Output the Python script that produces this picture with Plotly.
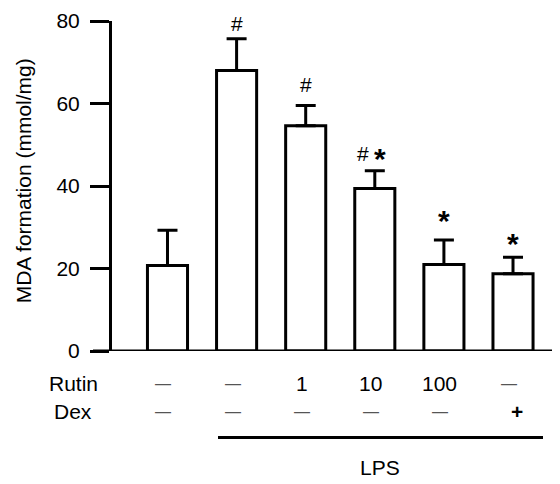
import plotly.graph_objects as go

# ---- data ----
groups = ["Control", "LPS", "LPS+Rutin 1", "LPS+Rutin 10", "LPS+Rutin 100", "LPS+Dex"]
mda_mean = [20.7, 68.0, 54.6, 39.4, 21.0, 18.7]
mda_sem = [8.6, 7.7, 4.9, 4.3, 5.9, 4.0]
hash_marks = ["", "#", "#", "#", "", ""]
star_marks = ["", "", "", "*", "*", "*"]
rutin_row = ["—", "—", "1", "10", "100", "—"]
dex_row = ["—", "—", "—", "—", "—", "+"]
y_ticks = [0, 20, 40, 60, 80]

# label offsets above error caps (pixels)
hash_shift = [0, 15, 21, 17, 0, 0]
star_shift = [0, 0, 0, 12, 20, 14]

FONT = "Arial, Liberation Sans, Helvetica, sans-serif"
xs = list(range(len(groups)))

fig = go.Figure()
fig.add_trace(go.Bar(
    x=xs, y=mda_mean, width=0.58,
    marker=dict(color="white", line=dict(color="black", width=3)),
    error_y=dict(type="data", array=mda_sem, arrayminus=[0] * len(mda_sem),
                 symmetric=False, color="black", thickness=3, width=10),
    showlegend=False, hoverinfo="skip",
))

ann = []
# significance marks
for i, (h, s) in enumerate(zip(hash_marks, star_marks)):
    top = mda_mean[i] + mda_sem[i]
    both = bool(h and s)
    if h:
        ann.append(dict(x=i, y=top, xref="x", yref="y", text=h, showarrow=False,
                        yanchor="middle", yshift=hash_shift[i], xshift=-12 if both else 0,
                        font=dict(family=FONT, size=21, color="black")))
    if s:
        ann.append(dict(x=i, y=top, xref="x", yref="y", text="<b>*</b>", showarrow=False,
                        yanchor="middle", yshift=star_shift[i], xshift=5 if both else 0,
                        font=dict(family=FONT, size=30, color="black")))

# treatment table
def row(labels, ypaper):
    for i, t in enumerate(labels):
        if t == "—":
            ann.append(dict(x=i, y=ypaper, xref="x", yref="paper", text=t, showarrow=False,
                            yanchor="middle", xshift=-4, yshift=0,
                            font=dict(family=FONT, size=16, color="#555")))
        elif t == "+":
            ann.append(dict(x=i, y=ypaper, xref="x", yref="paper", text="<b>+</b>", showarrow=False,
                            yanchor="middle", xshift=4,
                            font=dict(family=FONT, size=21, color="black")))
        else:
            ann.append(dict(x=i, y=ypaper, xref="x", yref="paper", text=t, showarrow=False,
                            yanchor="middle", xshift=-4,
                            font=dict(family=FONT, size=21, color="black")))

row(rutin_row, -0.097)
row(dex_row, -0.182)
ann.append(dict(x=-0.0874, y=-0.097, xref="paper", yref="paper", text="Rutin", showarrow=False,
                xanchor="center", yanchor="middle", font=dict(family=FONT, size=21, color="black")))
ann.append(dict(x=-0.0874, y=-0.182, xref="paper", yref="paper", text="Dex", showarrow=False,
                xanchor="center", yanchor="middle", font=dict(family=FONT, size=21, color="black")))
ann.append(dict(x=3.082, y=-0.3545, xref="x", yref="paper", text="LPS", showarrow=False,
                yanchor="middle", font=dict(family=FONT, size=21, color="black")))
# y-axis title
ann.append(dict(x=-0.199, y=0.515, xref="paper", yref="paper", text="MDA formation (mmol/mg)",
                showarrow=False, textangle=-90, xanchor="center", yanchor="middle",
                font=dict(family=FONT, size=21, color="black")))

shapes = [
    # x axis baseline
    dict(type="line", xref="paper", yref="y", x0=-0.0426, x1=1.0, y0=0, y1=0,
         line=dict(color="black", width=3), layer="above"),
    # LPS bracket line
    dict(type="line", xref="x", yref="paper", x0=0.731, x1=5.434, y0=-0.262, y1=-0.262,
         line=dict(color="black", width=3)),
]

fig.update_layout(
    width=552, height=476,
    margin=dict(l=104, r=2, t=13, b=133),
    paper_bgcolor="white", plot_bgcolor="white",
    font=dict(family=FONT, size=21, color="black"),
    xaxis=dict(range=[-0.803, 5.651], showticklabels=False, showgrid=False,
               zeroline=False, showline=False, ticks=""),
    yaxis=dict(range=[0, 80], tickvals=y_ticks, showgrid=False, zeroline=False,
               showline=True, linecolor="black", linewidth=3,
               ticks="outside", ticklen=19, tickwidth=3, tickcolor="black",
               ticklabelstandoff=6, automargin=False,
               tickfont=dict(family=FONT, size=21, color="black")),
    annotations=ann, shapes=shapes, bargap=0.4,
)

fig.write_html("out.html")
